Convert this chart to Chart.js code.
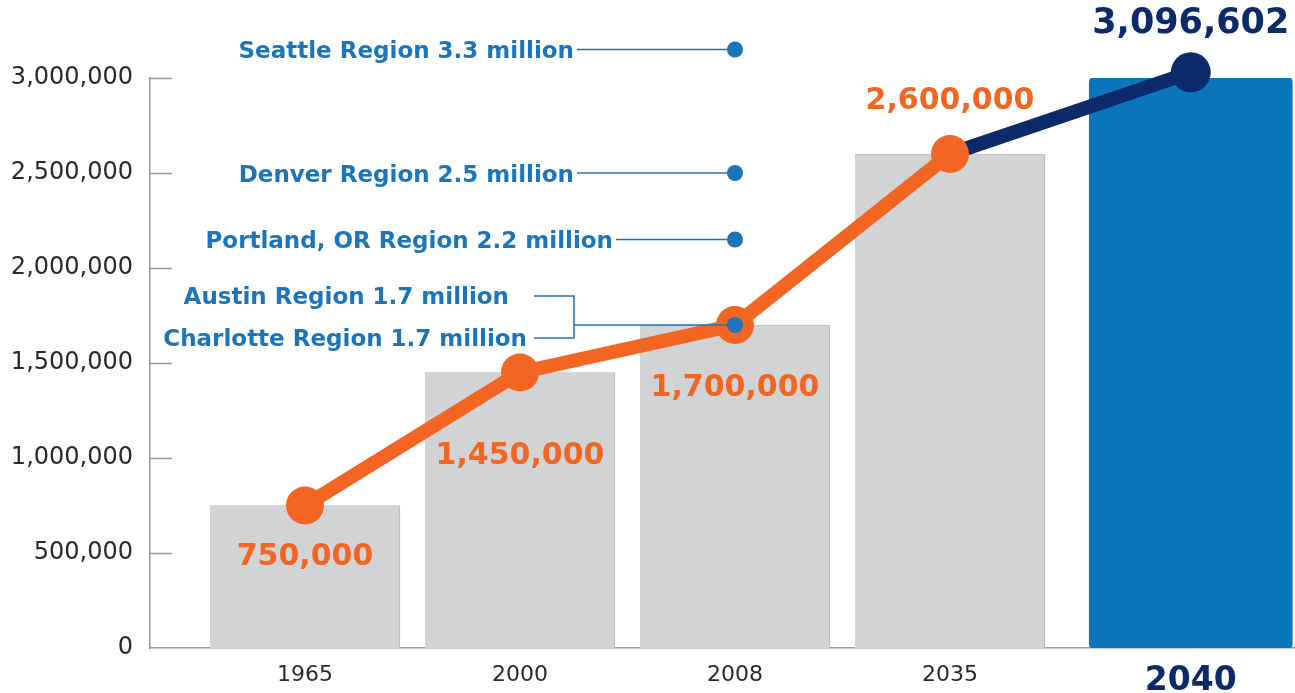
<!DOCTYPE html>
<html>
<head>
<meta charset="utf-8">
<script src="https://cdn.jsdelivr.net/npm/chart.js@4"></script>
<style>
  html, body { margin: 0; padding: 0; background: #fff; }
  #wrap { width: 1295px; height: 693px; position: relative; }
</style>
</head>
<body>
<div id="wrap"><canvas id="popChart"></canvas></div>
<script>
// data
const yearLabels = ['1965', '2000', '2008', '2035', '2040'];
const slotPositions = [0, 1, 2, 3, 4.12]; // 2040 sits a bit further right
const barValues = [750000, 1450000, 1700000, 2600000];
const projectedBar = [3000000];
const lineValues = [750000, 1450000, 1700000, 2600000, 3030000];
const lineLabels = ['750,000', '1,450,000', '1,700,000', '2,600,000', '3,096,602'];
const yTickValues = [0, 500000, 1000000, 1500000, 2000000, 2500000, 3000000];
const regionNames = ['Seattle Region 3.3 million', 'Denver Region 2.5 million', 'Portland, OR Region 2.2 million', 'Austin Region 1.7 million', 'Charlotte Region 1.7 million'];
const regionValues = [3150000, 2500000, 2150000, 1700000];

const ORANGE = '#f26522';
const NAVY = '#0c2a69';
const BLUE = '#1b75bb';
const labelOffsets = [52, 84, 63, -53, -48]; // label centre vs point
const connectorLen = [158, 158, 119];

const ctx = document.getElementById('popChart').getContext('2d');

// short tick marks pointing into the plot + labels for the line and regions
const decorations = {
    id: 'decorations',
    afterDatasetsDraw(chart) {
        const c = chart.ctx;
        const y = chart.scales.y;
        const left = chart.chartArea.left;
        c.save();
        c.strokeStyle = '#9a9a9a';
        c.lineWidth = 1.5;
        yTickValues.forEach(v => {
            if (v === 0) return;
            const py = Math.round(y.getPixelForValue(v)) + 0.5;
            c.beginPath();
            c.moveTo(left, py);
            c.lineTo(left + 22, py);
            c.stroke();
        });

        // value labels on the line
        const lineMeta = chart.getDatasetMeta(0);
        c.textAlign = 'center';
        c.textBaseline = 'middle';
        lineMeta.data.forEach((pt, i) => {
            c.fillStyle = i === 4 ? NAVY : ORANGE;
            c.font = i === 4 ? 'bold 35px "DejaVu Sans"' : 'bold 30px "DejaVu Sans"';
            c.fillText(lineLabels[i], pt.x, pt.y + labelOffsets[i]);
        });

        // region call-outs
        const dots = chart.getDatasetMeta(3).data;
        c.fillStyle = BLUE;
        c.strokeStyle = BLUE;
        c.lineWidth = 1.5;
        c.font = 'bold 23px "DejaVu Sans"';
        c.textAlign = 'right';
        for (let i = 0; i < 3; i++) {
            const d = dots[i];
            const endX = d.x - connectorLen[i];
            c.fillText(regionNames[i], endX - 3, d.y + 3);
            c.beginPath();
            c.moveTo(endX, d.y);
            c.lineTo(d.x, d.y);
            c.stroke();
        }
        // Austin + Charlotte share one dot with a bracket
        const d = dots[3];
        const bx = d.x - 161;
        const topY = d.y - 29, botY = d.y + 13;
        c.fillText(regionNames[3], bx - 65, topY + 2);
        c.fillText(regionNames[4], bx - 47, botY + 2);
        c.beginPath();
        c.moveTo(bx - 40, topY); c.lineTo(bx, topY); c.lineTo(bx, botY); c.lineTo(bx - 40, botY);
        c.moveTo(bx, d.y); c.lineTo(d.x, d.y);
        c.stroke();
        dots.forEach(p => {
            c.beginPath();
            c.arc(p.x, p.y, 8, 0, Math.PI * 2);
            c.fill();
        });
        c.restore();
    }
};

const popChart = new Chart(ctx, {
    type: 'bar',
    data: {
        datasets: [{
            type: 'line',
            data: lineValues.map((v, i) => ({ x: slotPositions[i], y: v })),
            borderColor: ORANGE,
            borderWidth: 14,
            segment: { borderColor: s => s.p1DataIndex === 4 ? NAVY : ORANGE },
            pointRadius: lineValues.map((v, i) => i === 4 ? 20 : 19),
            pointBackgroundColor: lineValues.map((v, i) => i === 4 ? NAVY : ORANGE),
            pointBorderWidth: 0,
            tension: 0,
            clip: false,
            order: 1
        }, {
            data: barValues.map((v, i) => ({ x: slotPositions[i], y: v })),
            backgroundColor: '#d1d3d4',
            borderColor: '#bdbec0',
            borderWidth: { top: 1, right: 1.5, left: 0, bottom: 0 },
            barThickness: 190,
            grouped: false,
            order: 3
        }, {
            data: projectedBar.map(v => ({ x: slotPositions[4], y: v })),
            backgroundColor: '#0a77bd',
            borderRadius: 4,
            borderSkipped: false,
            barThickness: 203,
            grouped: false,
            order: 3
        }, {
            type: 'scatter',
            data: regionValues.map(v => ({ x: slotPositions[2], y: v })),
            pointRadius: 0,
            clip: false,
            order: 0
        }]
    },
    options: {
        responsive: true,
        maintainAspectRatio: false,
        animation: false,
        layout: { autoPadding: false, padding: { top: 78, left: 0, right: 0, bottom: 0 } },
        plugins: { legend: { display: false }, tooltip: { enabled: false } },
        scales: {
            x: {
                type: 'linear',
                offset: false,
                min: -0.7209,
                max: 4.6047,
                grid: { display: false },
                border: { display: true, color: '#9a9a9a', width: 1.5 },
                afterBuildTicks: scale => { scale.ticks = slotPositions.map(v => ({ value: v })); },
                afterFit: scale => { scale.height = 45; },
                ticks: {
                    padding: 6,
                    autoSkip: false,
                    maxRotation: 0,
                    callback: (v, i) => yearLabels[i],
                    color: c => c.index === 4 ? NAVY : '#2a2a2a',
                    font: c => c.index === 4
                        ? { family: 'DejaVu Sans', size: 33, weight: 'bold' }
                        : { family: 'DejaVu Sans', size: 22 }
                }
            },
            y: {
                min: 0,
                max: 3000000,
                grid: { display: false, drawTicks: false },
                border: { display: true, color: '#9a9a9a', width: 1.5 },
                afterBuildTicks: scale => { scale.ticks = yTickValues.map(v => ({ value: v })); },
                afterFit: scale => { scale.width = 150; },
                ticks: {
                    padding: 17,
                    color: '#2a2a2a',
                    font: { family: 'DejaVu Sans', size: 24 },
                    callback: v => v.toLocaleString('en-US')
                }
            }
        }
    },
    plugins: [decorations]
});
</script>
</body>
</html>
